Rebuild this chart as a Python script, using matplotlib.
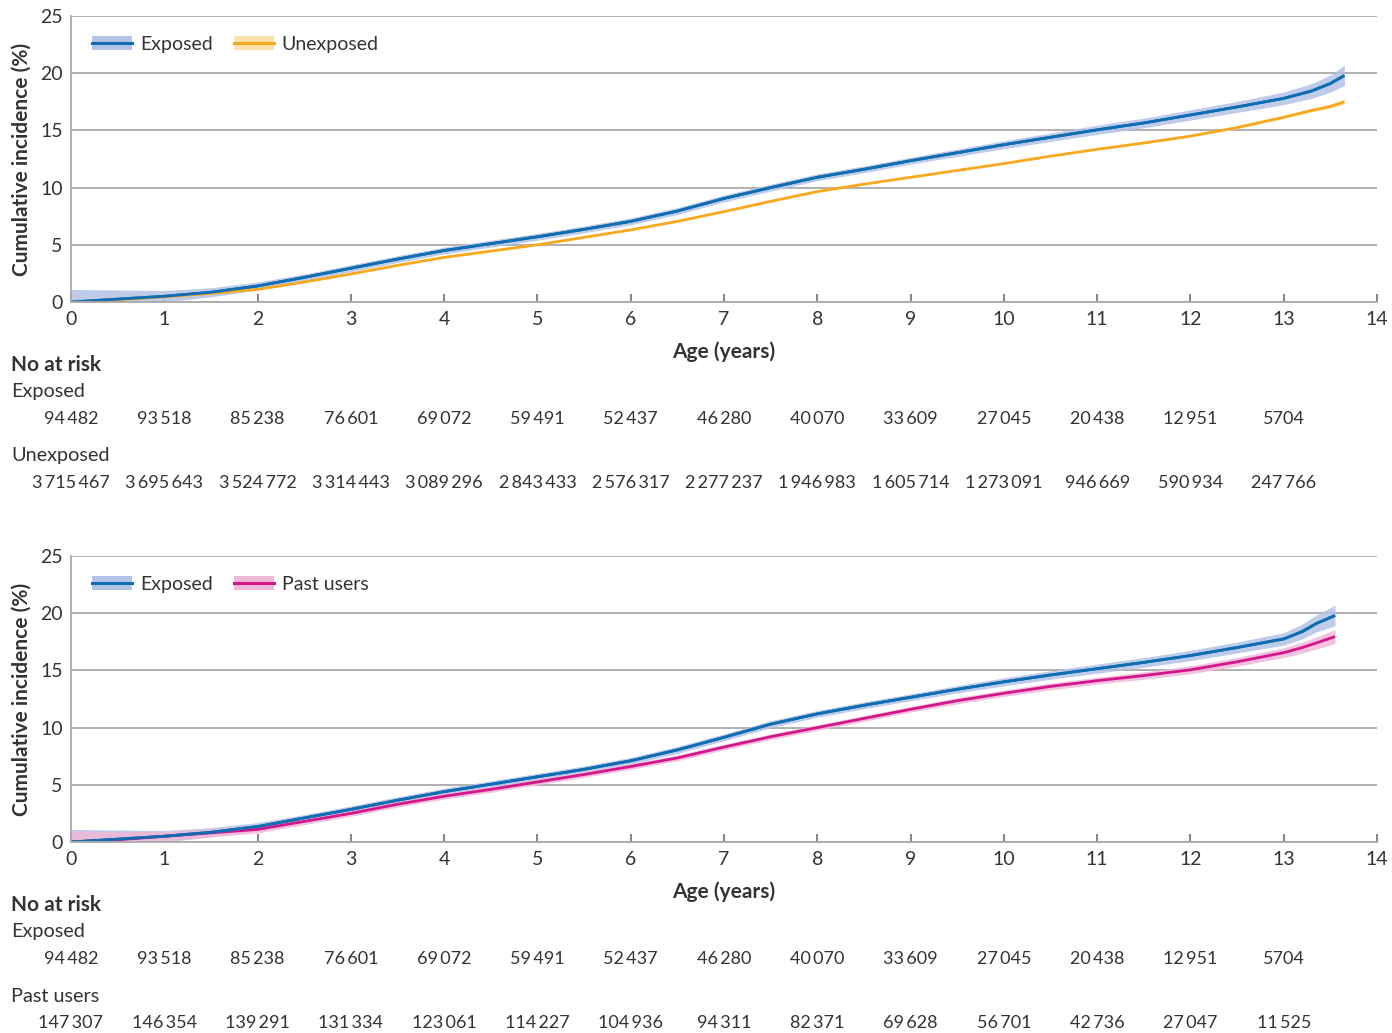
import matplotlib

matplotlib.use("Agg")

import matplotlib.pyplot as plt
import matplotlib.transforms as mtransforms
from matplotlib.patches import Patch
from matplotlib.lines import Line2D
import numpy as np

plt.rcParams["font.family"] = ["Lato", "DejaVu Sans"]

ages_top = [0, 0.5, 1, 1.5, 2, 2.5, 3, 3.5, 4, 4.5, 5, 5.5, 6, 6.5, 7, 7.5, 8, 8.5,
            9, 9.5, 10, 10.5, 11, 11.5, 12, 12.5, 13, 13.3, 13.5, 13.65]
ages_bot = [0, 0.5, 1, 1.5, 2, 2.5, 3, 3.5, 4, 4.5, 5, 5.5, 6, 6.5, 7, 7.5, 8, 8.5,
            9, 9.5, 10, 10.5, 11, 11.5, 12, 12.5, 13, 13.2, 13.35, 13.55]

exposed_top = [0, 0.25, 0.5, 0.85, 1.4, 2.15, 2.95, 3.75, 4.5, 5.1, 5.7, 6.35, 7.05, 7.95,
               9.05, 10.0, 10.9, 11.6, 12.35, 13.05, 13.75, 14.4, 15.05, 15.65, 16.35, 17.05,
               17.8, 18.45, 19.1, 19.8]
unexposed = [0, 0.2, 0.45, 0.75, 1.1, 1.75, 2.45, 3.2, 3.9, 4.45, 5.0, 5.65, 6.3, 7.05,
             7.9, 8.8, 9.65, 10.3, 10.9, 11.5, 12.1, 12.75, 13.35, 13.9, 14.5, 15.25, 16.15,
             16.75, 17.1, 17.5]
exposed_bot = [0, 0.25, 0.5, 0.85, 1.35, 2.1, 2.85, 3.65, 4.4, 5.05, 5.7, 6.35, 7.1, 8.05,
               9.15, 10.3, 11.2, 11.95, 12.65, 13.35, 14.0, 14.6, 15.15, 15.7, 16.3, 17.0,
               17.75, 18.4, 19.1, 19.8]
past_users = [0, 0.2, 0.5, 0.8, 1.1, 1.8, 2.5, 3.3, 4.0, 4.6, 5.25, 5.9, 6.6, 7.35, 8.3,
              9.2, 10.0, 10.8, 11.6, 12.35, 13.0, 13.6, 14.1, 14.55, 15.05, 15.75, 16.55,
              17.0, 17.4, 17.95]

# confidence band half-widths
exposed_hw = [1.1, 0.8, 0.5, 0.4, 0.35, 0.3, 0.3, 0.3, 0.3, 0.3, 0.3, 0.3, 0.3, 0.3, 0.3,
              0.3, 0.3, 0.3, 0.3, 0.32, 0.35, 0.37, 0.4, 0.42, 0.45, 0.48, 0.55, 0.65, 0.75,
              0.9]
unexposed_hw = [0.05, 0.05, 0.05, 0.05, 0.05, 0.05, 0.05, 0.05, 0.05, 0.05, 0.05, 0.05,
                0.05, 0.05, 0.05, 0.05, 0.05, 0.05, 0.05, 0.05, 0.06, 0.06, 0.07, 0.08,
                0.09, 0.1, 0.12, 0.15, 0.18, 0.22]
past_hw = [1.0, 0.7, 0.45, 0.35, 0.3, 0.28, 0.25, 0.25, 0.25, 0.25, 0.25, 0.25, 0.25, 0.25,
           0.25, 0.25, 0.25, 0.25, 0.25, 0.27, 0.28, 0.3, 0.3, 0.32, 0.35, 0.38, 0.42, 0.48,
           0.53, 0.6]

tick_years = list(range(15))
risk_years = list(range(14))
risk_exposed = ["94\u2009482", "93\u2009518", "85\u2009238", "76\u2009601", "69\u2009072",
                "59\u2009491", "52\u2009437", "46\u2009280", "40\u2009070", "33\u2009609",
                "27\u2009045", "20\u2009438", "12\u2009951", "5704"]
risk_unexposed = ["3\u2009715\u2009467", "3\u2009695\u2009643", "3\u2009524\u2009772",
                  "3\u2009314\u2009443", "3\u2009089\u2009296", "2\u2009843\u2009433",
                  "2\u2009576\u2009317", "2\u2009277\u2009237", "1\u2009946\u2009983",
                  "1\u2009605\u2009714", "1\u2009273\u2009091", "946\u2009669",
                  "590\u2009934", "247\u2009766"]
risk_past = ["147\u2009307", "146\u2009354", "139\u2009291", "131\u2009334", "123\u2009061",
             "114\u2009227", "104\u2009936", "94\u2009311", "82\u2009371", "69\u2009628",
             "56\u2009701", "42\u2009736", "27\u2009047", "11\u2009525"]

BLUE, BLUE_BAND = "#0f6db4", "#b3c3e6"
ORANGE, ORANGE_BAND = "#f7a81d", "#fde1aa"
PINK, PINK_BAND = "#d4168b", "#efb7d8"
TEXT = "#333333"
GRID = "#aaaaaa"

W, H = 1392, 1033
fig = plt.figure(figsize=(W / 100, H / 100), dpi=100)


def draw_curve(ax, x, y, hw, color, band):
    x = np.array(x)
    y = np.array(y)
    hw = np.array(hw)
    ax.fill_between(x, np.clip(y - hw, 0, None), y + hw, color=band, lw=0, alpha=0.85)
    ax.plot(x, y, color=color, lw=2.0, solid_capstyle="butt", solid_joinstyle="round")


def style_axes(ax):
    ax.set_xlim(0, 14)
    ax.set_ylim(0, 25)
    ax.set_xticks(tick_years)
    ax.set_yticks([0, 5, 10, 15, 20, 25])
    ax.grid(axis="y", color=GRID, lw=1.3)
    ax.set_axisbelow(True)
    for s in ["top", "right"]:
        ax.spines[s].set_visible(False)
    for s in ["left", "bottom"]:
        ax.spines[s].set_color(GRID)
        ax.spines[s].set_linewidth(1.3)
    ax.tick_params(axis="x", direction="in", length=6, width=1.5, color="#888888",
                   labelsize=14, labelcolor=TEXT, pad=6.5)
    ax.tick_params(axis="y", length=0, labelsize=14, labelcolor=TEXT, pad=6)
    ax.set_ylabel("Cumulative incidence (%)", fontsize=15, fontweight="bold", color=TEXT,
                  labelpad=6)
    ax.set_xlabel("Age (years)", fontsize=15, fontweight="bold", color=TEXT, labelpad=10)


def risk_table(ax, rows, top_px):
    trans = mtransforms.blended_transform_factory(ax.transData, fig.transFigure)
    fig.text(11 / W, 1 - (top_px + 1) / H, "No at risk", fontsize=15, fontweight="bold",
             color=TEXT, va="center")
    y = top_px + 27
    for name, vals in rows:
        fig.text(11 / W, 1 - (y + 1) / H, name, fontsize=14.3, color=TEXT, va="center")
        for yr, v in zip(risk_years, vals):
            ax.text(yr, 1 - (y + 28) / H, v, transform=trans, fontsize=13, color=TEXT,
                    ha="center", va="center")
        y += 64


def legend(ax, items):
    handles = []
    labels = []
    for label, color, band in items:
        handles.append((Patch(facecolor=band, edgecolor="none"),
                        Line2D([], [], color=color, lw=2.2)))
        labels.append(label)
    ax.legend(handles, labels, loc="center left", bbox_to_anchor=(0.016, 0.902),
              frameon=False, fontsize=14, labelcolor=TEXT, handlelength=2.06,
              handleheight=0.72, handletextpad=0.41, columnspacing=1.08, ncol=2,
              borderpad=0, borderaxespad=0)


ax1 = fig.add_axes([71 / W, 1 - 302 / H, (1377 - 71) / W, (302 - 16) / H])
draw_curve(ax1, ages_top, exposed_top, exposed_hw, BLUE, BLUE_BAND)
draw_curve(ax1, ages_top, unexposed, unexposed_hw, ORANGE, ORANGE_BAND)
draw_curve(ax1, ages_top, exposed_top, [0] * len(ages_top), BLUE, "none")
style_axes(ax1)
legend(ax1, [("Exposed", BLUE, BLUE_BAND), ("Unexposed", ORANGE, ORANGE_BAND)])
risk_table(ax1, [("Exposed", risk_exposed), ("Unexposed", risk_unexposed)], 364)

ax2 = fig.add_axes([71 / W, 1 - 842 / H, (1377 - 71) / W, (842 - 556) / H])
draw_curve(ax2, ages_bot, exposed_bot, exposed_hw, BLUE, BLUE_BAND)
draw_curve(ax2, ages_bot, past_users, past_hw, PINK, PINK_BAND)
draw_curve(ax2, ages_bot, exposed_bot, [0] * len(ages_bot), BLUE, "none")
style_axes(ax2)
legend(ax2, [("Exposed", BLUE, BLUE_BAND), ("Past users", PINK, PINK_BAND)])
risk_table(ax2, [("Exposed", risk_exposed), ("Past users", risk_past)], 904)

plt.savefig("out.png", dpi=100)
